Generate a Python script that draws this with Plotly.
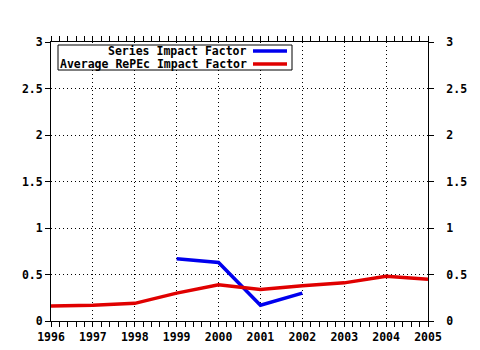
import plotly.graph_objects as go

years = [1996, 1997, 1998, 1999, 2000, 2001, 2002, 2003, 2004, 2005]
series_years = [1999, 2000, 2001, 2002]
series_if = [0.67, 0.63, 0.17, 0.30]
avg_if = [0.16, 0.17, 0.19, 0.30, 0.39, 0.34, 0.38, 0.41, 0.48, 0.45]
y_ticks = [0, 0.5, 1, 1.5, 2, 2.5, 3]
y_tick_labels = ["0", "0.5", "1", "1.5", "2", "2.5", "3"]
legend_names = ["Series Impact Factor", "Average RePEc Impact Factor"]
colors = ["#0000ee", "#e00000"]

FONT = dict(family="DejaVu Sans Mono", size=11.5, color="black", weight="bold")

L, R, T, B = 51, 52, 42, 29
W = 480 - L - R
H = 350 - T - B

fig = go.Figure()
# helper trace so the right-hand axis is drawn (invisible)
fig.add_trace(go.Scatter(x=years, y=avg_if, mode="lines", yaxis="y2",
                         line=dict(color="rgba(0,0,0,0)", width=0),
                         hoverinfo="skip", showlegend=False))
fig.add_trace(go.Scatter(x=series_years, y=series_if, mode="lines",
                         line=dict(color=colors[0], width=3.5), showlegend=False))
fig.add_trace(go.Scatter(x=years, y=avg_if, mode="lines",
                         line=dict(color=colors[1], width=3.5), showlegend=False))

axis_common = dict(showline=True, linecolor="black", linewidth=1,
                   gridcolor="black", griddash="1px,3px", gridwidth=1,
                   zeroline=False, ticks="outside", ticklen=5,
                   tickcolor="black", tickfont=FONT, automargin=False)

fig.update_layout(
    width=480, height=350,
    margin=dict(l=L, r=R, t=T, b=B),
    paper_bgcolor="white", plot_bgcolor="white",
    font=FONT,
    xaxis=dict(range=[1996, 2005], tickmode="array", tickvals=years,
               ticktext=[str(y) for y in years], mirror="allticks",
               minor=dict(ticks="outside", ticklen=3, dtick=0.2, tick0=1996,
                          tickcolor="black", showgrid=False),
               **axis_common),
    yaxis=dict(range=[0, 3], tickmode="array", tickvals=y_ticks,
               ticktext=y_tick_labels, mirror="ticks", **axis_common),
    yaxis2=dict(range=[0, 3], tickmode="array", tickvals=y_ticks,
                ticktext=y_tick_labels, overlaying="y", side="right",
                showgrid=False, showline=True, linecolor="black",
                ticks="outside", ticklen=5, tickcolor="black",
                ticklabelstandoff=10,
                tickfont=FONT, zeroline=False, automargin=False),
)

# Custom legend (text on the left, line sample on the right)
def px_x(v):
    return (v - L) / W

def px_y(v):
    return (350 - B - v) / H

fig.add_shape(type="rect", xref="paper", yref="paper",
              x0=px_x(58), x1=px_x(292), y0=px_y(70), y1=px_y(45),
              line=dict(color="black", width=1), fillcolor="white", layer="above")
rows_px = [51, 64]
for name, col, ypx in zip(legend_names, colors, rows_px):
    yp = px_y(ypx)
    fig.add_annotation(xref="paper", yref="paper", x=px_x(248), y=yp,
                       text=name, showarrow=False, xanchor="right",
                       yanchor="middle", font=FONT, borderpad=0)
    fig.add_shape(type="line", xref="paper", yref="paper",
                  x0=px_x(253), x1=px_x(287), y0=yp, y1=yp,
                  line=dict(color=col, width=3.5), layer="above")

fig.write_html("out.html")
